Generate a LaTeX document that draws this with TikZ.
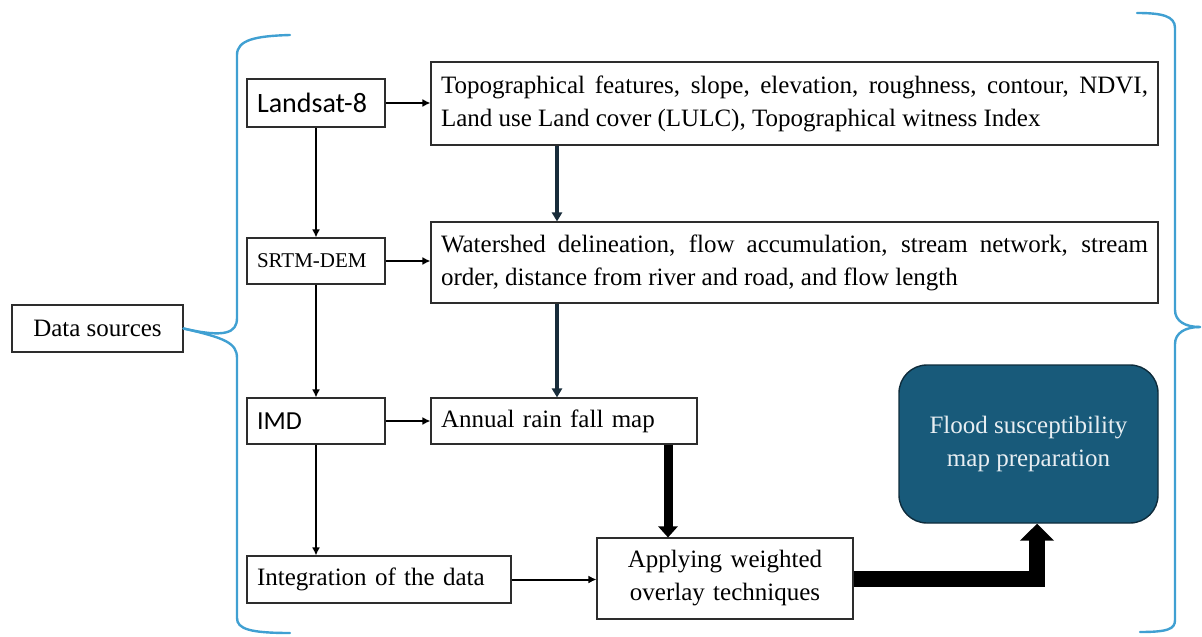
\documentclass[tikz,border=0pt]{standalone}
\usepackage{fontspec}
\setmainfont{Liberation Serif}
\newfontfamily\sansf{Carlito}
\usetikzlibrary{arrows.meta}
\definecolor{bracec}{RGB}{64,160,210}
\definecolor{floodc}{RGB}{24,90,122}
\definecolor{floodd}{RGB}{14,44,60}
\definecolor{darkar}{RGB}{24,44,58}
\definecolor{boxd}{RGB}{45,45,45}
\definecolor{floodt}{RGB}{232,238,242}
\begin{document}
\begin{tikzpicture}[x=1pt,y=-1pt,
  box/.style={draw=boxd, line width=1.1pt, inner xsep=10pt, inner ysep=0pt,
    font=\fontsize{25}{33}\selectfont},
  sansbox/.style={box, font=\sansf\fontsize{26}{30}\selectfont},
  thinarrow/.style={line width=2pt, -{Latex[length=8pt,width=8pt]}},
  darkarrow/.style={line width=3.5pt, draw=darkar, -{Triangle[length=9pt,width=10pt]}},
  thickarrow/.style={line width=9pt, -{Triangle[length=11pt,width=19pt]}},
  bigarrow/.style={line width=16pt, miter limit=10, line join=miter, -{Triangle[length=17pt,width=33pt]}},
  bracestyle/.style={draw=bracec, line width=2.4pt, line cap=round}
]
\useasboundingbox (0,0) rectangle (1202,637);

% left column
\node[sansbox, text width=118pt, minimum height=48pt, align=left, font=\sansf\fontsize{28}{30}\selectfont] (landsat) at (316,103) {Landsat-8};
\node[box, text width=118pt, minimum height=46pt, align=left, font=\fontsize{21}{26}\selectfont] (srtm) at (316,261) {SRTM-DEM};
\node[sansbox, text width=118pt, minimum height=46pt, align=left] (imd) at (316,421) {IMD};
\node[box, text width=244pt, minimum height=47pt, align=left] (integ) at (379,579.5) {Integration of the data};

% middle column
\node[box, text width=707pt, minimum height=83pt, align=justify] (topo) at (794.5,103.5)
  {Topographical features, slope, elevation, roughness, contour, NDVI,\linebreak Land use Land cover (LULC), Topographical witness Index};
\node[box, text width=707pt, minimum height=81pt, align=justify] (water) at (794.5,262.5)
  {Watershed delineation, flow accumulation, stream network, stream\linebreak order, distance from river and road, and flow length};
\node[box, text width=246pt, minimum height=46pt, align=left] (annual) at (564,421) {Annual rain fall map};
\node[box, text width=236pt, minimum height=81pt, align=center] (apply) at (725,578.5) {Applying weighted\\overlay techniques};

% result
\node[draw=floodd, line width=1.4pt, fill=floodc, rounded corners=28pt, minimum width=259pt, minimum height=158pt,
  text=floodt, align=center, font=\fontsize{25}{33}\selectfont] (flood) at (1028.5,444) {Flood susceptibility\\map preparation};

% data sources
\node[box, minimum width=171pt, minimum height=47pt] (data) at (97.5,328.5) {Data sources};

\coordinate (darkx) at (557,0);
\coordinate (thickx) at (668,0);
\coordinate (bigx) at (1037,0);

% connectors
\draw[thinarrow] (landsat.east) -- (landsat.east -| topo.west);
\draw[thinarrow] (srtm.east) -- (srtm.east -| water.west);
\draw[thinarrow] (imd.east) -- (annual.west);
\draw[thinarrow] (integ.east) -- (integ.east -| apply.west);
\draw[thinarrow] (landsat.south) -- (srtm.north);
\draw[thinarrow] (srtm.south) -- (imd.north);
\draw[thinarrow] (imd.south) -- (imd.south |- integ.north);
\draw[darkarrow] (topo.south -| darkx) -- (water.north -| darkx);
\draw[darkarrow] (water.south -| darkx) -- (annual.north -| darkx);
\draw[thickarrow] (annual.south -| thickx) -- (apply.north -| thickx);
\draw[bigarrow] (apply.east) -| (bigx |- flood.south);

% left brace
\draw[bracestyle] (290,35) .. controls (255,36) and (237,40) .. (237,55)
  -- (237,318) .. controls (237,333) and (225,338) .. (data.east);
\draw[bracestyle] (data.east) .. controls (225,338) and (237,343) .. (237,358)
  -- (237,618) .. controls (237,629) and (250,633) .. (290,633);

% right brace
\draw[bracestyle] (1137,13) .. controls (1162,13) and (1175,16) .. (1175,28)
  -- (1175,310) .. controls (1175,321) and (1185,327) .. (1200,327);
\draw[bracestyle] (1200,327) .. controls (1185,327) and (1175,333) .. (1175,344)
  -- (1175,620) .. controls (1175,629) and (1168,632) .. (1140,632);
\end{tikzpicture}
\end{document}
